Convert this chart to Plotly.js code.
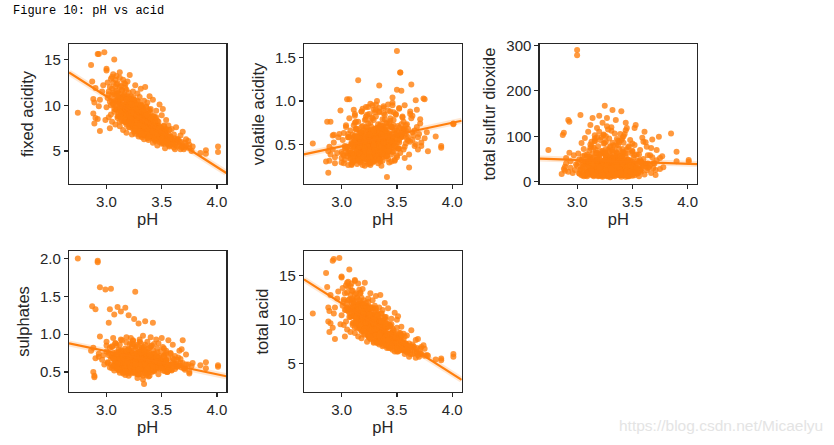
<!DOCTYPE html>
<html>
<head>
<meta charset="utf-8">
<script src="https://cdn.plot.ly/plotly-3.0.1.min.js"></script>
<style>
  html, body { margin: 0; padding: 0; background: #fff; }
  #plot { width: 834px; height: 445px; }
</style>
</head>
<body>
<div id="plot"></div>
<script>
// wine samples; pH is the shared x for every panel
var pH = [
  2.74, 2.86, 2.87, 2.88, 2.88, 2.89, 2.89, 2.90, 2.90, 2.92, 2.92, 2.93, 2.93, 2.94, 2.94, 2.96, 2.97, 2.98, 2.99, 3.00,
  3.00, 3.00, 3.01, 3.02, 3.02, 3.03, 3.03, 3.04, 3.04, 3.05, 3.05, 3.06, 3.06, 3.07, 3.07, 3.08, 3.08, 3.09, 3.09, 3.10,
  3.10, 3.10, 3.11, 3.11, 3.12, 3.12, 3.12, 3.13, 3.13, 3.14, 3.14, 3.14, 3.15, 3.15, 3.15, 3.16, 3.16, 3.16, 3.17, 3.17,
  3.17, 3.18, 3.18, 3.18, 3.19, 3.19, 3.19, 3.20, 3.20, 3.20, 3.20, 3.21, 3.21, 3.21, 3.22, 3.22, 3.22, 3.23, 3.23, 3.23,
  3.24, 3.24, 3.24, 3.25, 3.25, 3.25, 3.26, 3.26, 3.26, 3.26, 3.27, 3.27, 3.27, 3.28, 3.28, 3.28, 3.29, 3.29, 3.29, 3.30,
  3.30, 3.30, 3.30, 3.31, 3.31, 3.31, 3.32, 3.32, 3.32, 3.32, 3.33, 3.33, 3.33, 3.34, 3.34, 3.34, 3.35, 3.35, 3.35, 3.36,
  3.36, 3.36, 3.37, 3.37, 3.37, 3.38, 3.38, 3.38, 3.39, 3.39, 3.39, 3.40, 3.40, 3.40, 3.41, 3.41, 3.42, 3.42, 3.42, 3.43,
  3.43, 3.44, 3.44, 3.45, 3.45, 3.46, 3.46, 3.47, 3.47, 3.48, 3.48, 3.49, 3.50, 3.50, 3.50, 3.51, 3.51, 3.52, 3.52, 3.53,
  3.53, 3.54, 3.54, 3.55, 3.56, 3.56, 3.57, 3.58, 3.59, 3.60, 3.61, 3.62, 3.63, 3.64, 3.66, 3.67, 3.68, 3.69, 3.71, 3.72,
  3.74, 3.75, 3.77, 3.78, 3.85, 3.90, 3.90, 4.01, 4.01, 3.05, 3.08, 3.11, 3.14, 3.17, 3.19, 3.21, 3.23, 3.25, 3.27, 3.28,
  3.29, 3.30, 3.31, 3.32, 3.33, 3.34, 3.35, 3.36, 3.37, 3.38, 3.39, 3.40, 3.41, 3.42, 3.44, 3.46, 3.48, 3.51, 3.54, 3.58,
  3.06, 3.12, 3.16, 3.20, 3.22, 3.24, 3.26, 3.28, 3.30, 3.31, 3.33, 3.35, 3.36, 3.38, 3.40, 3.43, 3.45, 3.47, 3.50, 3.55,
  3.10, 3.13, 3.16, 3.18, 3.20, 3.22, 3.24, 3.26, 3.27, 3.29, 3.30, 3.32, 3.33, 3.35, 3.37, 3.39, 3.41, 3.44, 3.47, 3.52,
  3.11, 3.14, 3.17, 3.19, 3.21, 3.23, 3.25, 3.26, 3.28, 3.29, 3.31, 3.32, 3.34, 3.36, 3.38, 3.40, 3.42, 3.45, 3.49, 3.54,
  3.08, 3.12, 3.15, 3.18, 3.20, 3.22, 3.24, 3.25, 3.27, 3.28, 3.30, 3.31, 3.33, 3.35, 3.37, 3.39, 3.42, 3.46, 3.50, 3.57,
  3.09, 3.13, 3.16, 3.19, 3.21, 3.23, 3.24, 3.26, 3.27, 3.29, 3.30, 3.32, 3.34, 3.36, 3.38, 3.41, 3.43, 3.46, 3.51, 3.56,
  3.12, 3.15, 3.17, 3.20, 3.22, 3.23, 3.25, 3.27, 3.28, 3.30, 3.31, 3.33, 3.35, 3.37, 3.39, 3.40, 3.43, 3.48, 3.52, 3.60,
  3.10, 3.14, 3.18, 3.21, 3.24, 3.26, 3.28, 3.29, 3.31, 3.32, 3.34, 3.35, 3.36, 3.38, 3.40, 3.42, 3.44, 3.47, 3.53, 3.62,
  3.07, 3.11, 3.15, 3.19, 3.22, 3.25, 3.27, 3.29, 3.30, 3.32, 3.33, 3.34, 3.36, 3.37, 3.39, 3.41, 3.45, 3.49, 3.55, 3.65,
  3.14, 3.17, 3.20, 3.23, 3.25, 3.26, 3.28, 3.30, 3.31, 3.33, 3.34, 3.36, 3.38, 3.39, 3.41, 3.44, 3.46, 3.50, 3.54, 3.58,
  3.02, 3.06, 3.09, 3.12, 3.15, 3.18, 3.21, 3.24, 3.26, 3.29, 3.31, 3.34, 3.37, 3.40, 3.43, 3.46, 3.50, 3.55, 3.60, 3.68,
  3.04, 3.08, 3.11, 3.14, 3.17, 3.20, 3.22, 3.25, 3.28, 3.30, 3.33, 3.36, 3.38, 3.41, 3.44, 3.48, 3.52, 3.57, 3.63, 3.70,
  3.03, 3.07, 3.10, 3.13, 3.16, 3.19, 3.23, 3.26, 3.28, 3.31, 3.33, 3.35, 3.38, 3.42, 3.45, 3.49, 3.53, 3.58, 3.64, 3.72,
  3.05, 3.09, 3.12, 3.15, 3.18, 3.21, 3.24, 3.27, 3.29, 3.32, 3.34, 3.37, 3.40, 3.43, 3.47, 3.51, 3.56, 3.61, 3.66, 3.75,
  3.06, 3.10, 3.13, 3.16, 3.19, 3.22, 3.25, 3.27, 3.30, 3.32, 3.35, 3.38, 3.41, 3.44, 3.48, 3.52, 3.57, 3.62, 3.67, 3.71,
  3.01, 3.05, 3.09, 3.13, 3.17, 3.20, 3.23, 3.26, 3.29, 3.31, 3.34, 3.36, 3.39, 3.42, 3.46, 3.50, 3.54, 3.59, 3.64, 3.69
];
var fixedAcidity = [
  9.2, 14.4, 12.6, 10.7, 9.1, 10.3, 8.0, 8.6, 11.9, 15.6, 8.5, 15.6, 9.9, 7.2, 10.6, 11.5, 12.2, 15.8, 8.4, 14.0,
  13.8, 9.8, 12.5, 8.7, 11.2, 7.5, 10.4, 12.9, 9.0, 11.8, 8.2, 13.4, 10.1, 15.0, 9.3, 12.0, 7.9, 11.0, 13.2, 10.6,
  12.4, 8.8, 11.3, 9.6, 13.6, 10.2, 7.7, 12.1, 9.4, 11.6, 8.3, 10.8, 12.8, 9.1, 7.3, 11.1, 10.0, 8.6, 12.3, 9.7,
  10.9, 8.1, 11.7, 7.0, 9.9, 12.6, 8.9, 10.3, 7.6, 11.4, 9.2, 8.4, 10.7, 13.3, 9.0, 7.8, 11.0, 8.5, 10.2, 6.8,
  9.6, 11.5, 7.4, 8.8, 10.6, 7.1, 9.3, 12.2, 8.0, 6.9, 10.1, 8.7, 7.5, 9.8, 11.3, 7.9, 8.2, 10.4, 6.6, 9.0,
  7.7, 10.9, 8.4, 9.5, 6.8, 11.8, 7.3, 8.9, 10.0, 6.5, 8.1, 9.7, 7.0, 8.6, 10.5, 6.3, 7.8, 9.2, 12.0, 7.2,
  8.3, 9.9, 6.7, 7.5, 10.3, 8.0, 6.2, 9.1, 7.4, 11.0, 6.9, 8.5, 7.1, 9.6, 6.4, 8.2, 7.6, 10.6, 5.9, 8.8,
  7.0, 6.1, 8.6, 7.3, 9.4, 5.6, 7.9, 6.6, 8.2, 7.1, 10.1, 6.2, 7.5, 5.8, 8.9, 6.8, 9.6, 6.0, 7.7, 5.3,
  7.2, 6.4, 8.4, 5.9, 6.9, 7.8, 5.5, 6.6, 7.4, 5.8, 6.8, 5.2, 7.6, 6.2, 5.6, 6.7, 6.0, 7.1, 5.4, 6.3,
  6.1, 5.7, 5.0, 5.5, 4.8, 5.1, 4.7, 5.5, 4.9, 10.5, 9.6, 10.9, 9.8, 10.4, 9.4, 8.9, 9.7, 8.5, 9.2, 8.0,
  8.7, 7.9, 8.3, 7.6, 8.0, 7.4, 7.8, 7.2, 8.1, 7.0, 7.6, 7.3, 6.9, 7.5, 7.1, 6.7, 6.9, 6.4, 6.8, 6.5,
  11.4, 10.6, 9.5, 10.0, 9.0, 8.7, 9.9, 8.4, 9.1, 8.2, 8.8, 7.9, 8.6, 7.7, 8.0, 7.3, 7.8, 7.0, 7.2, 6.6,
  11.4, 8.9, 9.8, 7.9, 10.1, 8.8, 10.9, 7.7, 9.2, 8.0, 9.6, 6.7, 8.3, 8.8, 7.0, 9.5, 7.3, 6.2, 7.7, 6.4,
  8.8, 10.9, 9.0, 10.1, 7.6, 10.6, 8.2, 8.9, 9.7, 7.2, 8.3, 9.8, 7.4, 8.4, 8.8, 6.6, 8.4, 6.8, 6.8, 7.4,
  10.5, 8.2, 10.8, 9.4, 8.5, 10.4, 7.7, 9.4, 8.4, 10.5, 7.4, 8.7, 9.3, 6.7, 8.4, 7.1, 8.8, 7.4, 6.1, 7.3,
  9.5, 10.6, 8.2, 11.0, 9.4, 8.1, 9.9, 7.2, 9.5, 8.6, 7.8, 9.7, 8.5, 6.8, 9.4, 7.4, 6.5, 8.3, 7.1, 5.8,
  12.0, 9.3, 10.1, 8.2, 9.2, 10.2, 7.4, 9.1, 7.8, 9.7, 7.9, 7.1, 9.0, 8.1, 7.3, 9.2, 6.4, 7.7, 7.8, 5.9,
  8.6, 10.1, 10.6, 8.5, 7.8, 9.6, 8.7, 6.8, 9.0, 9.4, 7.7, 7.1, 9.8, 7.6, 8.5, 6.8, 7.7, 6.2, 7.2, 6.4,
  11.2, 10.1, 8.7, 9.0, 10.7, 8.2, 9.0, 9.4, 7.1, 7.9, 8.8, 9.3, 7.2, 6.4, 7.9, 8.4, 8.7, 6.6, 6.6, 6.3,
  9.4, 8.2, 9.8, 9.3, 10.3, 7.8, 8.2, 9.1, 10.0, 7.5, 6.8, 8.5, 7.5, 8.7, 7.0, 8.3, 6.8, 7.2, 6.1, 6.1,
  11.5, 10.2, 12.3, 9.4, 11.0, 8.9, 10.4, 8.1, 9.6, 7.6, 9.0, 7.2, 8.4, 6.9, 7.8, 6.3, 6.9, 5.8, 6.2, 5.4,
  10.0, 12.8, 9.2, 11.7, 8.6, 10.8, 8.0, 9.9, 7.4, 8.8, 9.5, 7.0, 8.0, 6.6, 7.4, 6.0, 6.6, 5.6, 5.9, 5.2,
  12.0, 9.6, 11.3, 10.0, 12.4, 9.0, 8.4, 10.2, 8.2, 7.1, 8.6, 6.8, 7.3, 8.1, 6.5, 7.0, 6.1, 6.4, 5.5, 5.6,
  11.1, 9.9, 13.0, 8.9, 10.6, 8.3, 9.5, 7.8, 9.2, 6.9, 8.1, 7.5, 8.6, 6.4, 7.2, 5.9, 6.5, 5.4, 6.0, 5.3,
  12.5, 10.7, 8.7, 11.2, 9.7, 8.6, 10.6, 8.9, 7.8, 8.4, 7.6, 6.5, 7.7, 6.8, 7.5, 5.8, 6.2, 5.7, 5.2, 5.9,
  10.8, 13.1, 11.6, 9.1, 11.9, 8.1, 10.1, 7.5, 8.7, 10.0, 7.7, 8.9, 6.7, 7.1, 6.9, 6.2, 7.3, 5.7, 6.3, 5.5
];
var volatileAcidity = [
  0.51, 0.30, 0.76, 0.17, 0.42, 0.31, 0.47, 0.76, 0.38, 0.60, 0.44, 0.61, 0.52, 0.35, 0.28, 0.40, 0.58, 0.62, 0.89, 0.34,
  0.41, 0.29, 0.55, 0.63, 0.37, 0.48, 0.32, 0.45, 0.70, 1.02, 0.39, 0.26, 0.58, 0.40, 1.02, 0.33, 0.66, 0.50, 0.27, 0.43,
  0.35, 0.61, 0.47, 0.72, 0.31, 0.54, 0.83, 0.40, 0.59, 0.46, 0.68, 0.38, 1.24, 0.52, 0.76, 0.43, 0.36, 0.63, 0.29, 0.57,
  0.49, 0.64, 0.34, 0.88, 0.53, 0.39, 0.71, 0.45, 0.60, 0.32, 0.56, 0.78, 0.42, 0.25, 0.66, 0.93, 0.48, 0.58, 0.37, 0.69,
  0.51, 0.40, 0.74, 0.62, 0.33, 0.85, 0.55, 0.28, 0.66, 0.97, 0.46, 0.59, 0.70, 0.41, 0.35, 0.80, 0.63, 0.50, 0.90, 0.44,
  0.57, 0.31, 0.68, 0.47, 0.82, 0.38, 0.61, 0.54, 0.43, 1.00, 0.65, 0.36, 0.73, 1.18, 0.49, 0.87, 0.58, 0.40, 0.30, 0.64,
  0.52, 0.45, 0.79, 0.60, 0.35, 0.69, 0.92, 0.48, 0.63, 0.39, 0.84, 0.56, 0.67, 0.44, 0.12, 0.75, 0.59, 0.33, 0.96, 0.50,
  0.62, 0.88, 0.47, 0.70, 0.38, 1.04, 0.55, 0.78, 0.42, 0.66, 0.31, 0.85, 1.58, 0.60, 1.13, 0.71, 0.45, 0.92, 0.52, 1.33,
  1.33, 1.12, 0.58, 0.81, 0.67, 0.44, 0.95, 0.62, 0.73, 0.54, 0.23, 0.85, 1.19, 0.64, 0.48, 1.01, 0.70, 0.58, 0.79, 0.52,
  1.03, 1.02, 0.64, 0.42, 0.59, 0.48, 0.46, 0.74, 0.73, 0.46, 0.38, 0.58, 0.49, 0.41, 0.62, 0.53, 0.45, 0.60, 0.52, 0.39,
  0.57, 0.48, 0.63, 0.51, 0.44, 0.60, 0.55, 0.68, 0.47, 0.58, 0.53, 0.65, 0.49, 0.61, 0.56, 0.70, 0.52, 0.64, 0.59, 0.66,
  0.40, 0.47, 0.55, 0.43, 0.50, 0.58, 0.46, 0.53, 0.61, 0.49, 0.56, 0.42, 0.60, 0.54, 0.48, 0.63, 0.57, 0.51, 0.66, 0.59,
  0.38, 0.52, 0.44, 0.60, 0.35, 0.49, 0.66, 0.42, 0.56, 0.31, 0.47, 0.62, 0.40, 0.53, 0.71, 0.45, 0.58, 0.50, 0.64, 0.55,
  0.55, 0.33, 0.48, 0.41, 0.63, 0.37, 0.50, 0.58, 0.29, 0.45, 0.68, 0.39, 0.54, 0.46, 0.60, 0.36, 0.49, 0.70, 0.57, 0.61,
  0.43, 0.60, 0.36, 0.51, 0.46, 0.70, 0.32, 0.55, 0.48, 0.40, 0.62, 0.52, 0.34, 0.59, 0.45, 0.66, 0.41, 0.57, 0.52, 0.63,
  0.50, 0.40, 0.57, 0.34, 0.52, 0.45, 0.61, 0.38, 0.67, 0.49, 0.35, 0.56, 0.63, 0.42, 0.50, 0.58, 0.74, 0.46, 0.60, 0.68,
  0.36, 0.47, 0.63, 0.42, 0.56, 0.30, 0.48, 0.65, 0.39, 0.54, 0.44, 0.60, 0.51, 0.37, 0.66, 0.49, 0.55, 0.62, 0.45, 0.58,
  0.47, 0.58, 0.31, 0.53, 0.43, 0.62, 0.37, 0.50, 0.46, 0.69, 0.33, 0.52, 0.57, 0.64, 0.41, 0.55, 0.48, 0.72, 0.59, 0.53,
  0.58, 0.38, 0.49, 0.66, 0.40, 0.54, 0.45, 0.31, 0.60, 0.47, 0.55, 0.36, 0.68, 0.50, 0.43, 0.62, 0.53, 0.47, 0.67, 0.60,
  0.42, 0.55, 0.39, 0.48, 0.61, 0.35, 0.53, 0.44, 0.57, 0.39, 0.64, 0.47, 0.52, 0.59, 0.46, 0.70, 0.41, 0.56, 0.63, 0.51,
  0.28, 0.62, 0.40, 0.85, 0.33, 0.70, 0.45, 0.93, 0.26, 0.78, 0.36, 0.88, 0.31, 0.74, 0.42, 0.98, 0.35, 0.82, 0.68, 0.90,
  0.72, 0.34, 0.90, 0.27, 0.64, 0.38, 0.82, 0.30, 0.95, 0.43, 0.69, 0.25, 0.86, 0.37, 0.77, 0.32, 0.91, 0.47, 0.80, 0.62,
  0.45, 0.80, 0.29, 0.67, 0.39, 0.91, 0.33, 0.75, 0.41, 0.96, 0.28, 0.73, 0.44, 0.89, 0.30, 0.84, 0.40, 0.72, 0.55, 0.48,
  0.36, 0.52, 0.75, 0.31, 0.88, 0.44, 0.27, 0.81, 0.49, 0.34, 0.92, 0.39, 0.70, 0.29, 0.87, 0.45, 0.76, 0.38, 0.66, 0.57,
  0.58, 0.30, 0.68, 0.47, 0.26, 0.79, 0.41, 0.63, 0.87, 0.33, 0.71, 0.94, 0.36, 0.80, 0.48, 0.69, 0.34, 0.88, 0.50, 0.74,
  0.39, 0.47, 0.26, 0.76, 0.52, 0.35, 0.84, 0.29, 0.66, 0.90, 0.32, 0.61, 0.79, 0.42, 0.95, 0.37, 0.73, 0.56, 0.83, 0.44
];
var totalSulfurDioxide = [
  70, 17, 103, 108, 28, 33, 24, 52, 40, 136, 22, 132, 64, 31, 45, 19, 58, 26, 38, 290,
  278, 35, 62, 18, 49, 147, 27, 85, 14, 56, 30, 72, 21, 44, 96, 16, 38, 60, 25, 110,
  42, 19, 68, 33, 125, 24, 50, 15, 88, 37, 140, 28, 54, 12, 75, 36, 22, 102, 46, 17,
  31, 64, 20, 118, 40, 26, 78, 13, 55, 34, 145, 23, 48, 92, 18, 38, 67, 11, 29, 130,
  44, 21, 84, 167, 35, 60, 16, 100, 27, 52, 14, 39, 122, 24, 70, 18, 47, 32, 95, 10,
  58, 26, 37, 112, 19, 45, 158, 30, 66, 15, 23, 80, 41, 12, 54, 28, 136, 20, 36, 62,
  17, 48, 90, 25, 33, 14, 72, 40, 21, 105, 29, 155, 52, 11, 38, 64, 19, 86, 27, 43,
  15, 57, 24, 118, 35, 20, 76, 31, 12, 46, 92, 22, 39, 68, 16, 28, 53, 14, 81, 25,
  36, 18, 60, 27, 44, 12, 70, 22, 33, 50, 16, 87, 25, 40, 58, 19, 93, 30, 15, 47,
  99, 28, 56, 32, 106, 66, 45, 48, 44, 38, 22, 55, 30, 18, 42, 26, 64, 34, 20, 48,
  24, 36, 16, 52, 29, 40, 21, 33, 58, 18, 45, 26, 37, 14, 31, 49, 23, 35, 19, 28,
  33, 46, 25, 60, 38, 20, 50, 30, 43, 17, 27, 55, 22, 41, 32, 15, 36, 24, 44, 29,
  22, 78, 15, 54, 28, 98, 44, 31, 12, 66, 25, 86, 19, 48, 27, 14, 58, 113, 21, 40,
  30, 16, 47, 24, 38, 13, 62, 20, 35, 28, 17, 52, 26, 41, 15, 34, 23, 70, 29, 19,
  45, 26, 18, 35, 60, 21, 29, 14, 42, 24, 78, 31, 16, 37, 22, 50, 27, 12, 39, 25,
  18, 52, 89, 14, 40, 23, 104, 57, 19, 30, 76, 13, 26, 64, 21, 96, 17, 44, 28, 33,
  27, 20, 63, 32, 16, 45, 24, 38, 12, 55, 29, 21, 41, 18, 34, 25, 48, 15, 31, 37,
  35, 23, 41, 17, 29, 72, 20, 33, 46, 14, 38, 26, 18, 53, 24, 30, 11, 42, 22, 39,
  14, 43, 27, 36, 21, 31, 56, 16, 28, 40, 19, 34, 47, 23, 15, 61, 26, 37, 18, 32,
  39, 25, 33, 19, 48, 28, 15, 43, 22, 35, 68, 17, 30, 24, 52, 20, 36, 13, 27, 44,
  18, 40, 12, 75, 25, 98, 33, 15, 60, 44, 120, 22, 81, 38, 105, 28, 66, 46, 88, 54,
  48, 14, 30, 62, 20, 110, 36, 85, 17, 52, 26, 94, 40, 72, 130, 35, 58, 24, 77, 40,
  25, 58, 16, 41, 90, 12, 68, 28, 115, 19, 46, 80, 32, 100, 24, 63, 125, 42, 30, 70,
  33, 20, 82, 15, 47, 27, 102, 38, 13, 70, 56, 18, 92, 44, 78, 21, 60, 110, 36, 52,
  12, 45, 26, 95, 34, 18, 64, 140, 29, 50, 15, 87, 40, 62, 22, 118, 48, 34, 74, 26,
  42, 16, 55, 23, 70, 31, 14, 88, 45, 26, 106, 37, 20, 66, 48, 84, 30, 97, 58, 41
];
var sulphates = [
  2.00, 0.78, 1.37, 0.82, 0.50, 0.45, 0.43, 1.33, 0.68, 1.97, 1.95, 0.74, 0.70, 1.62, 0.97, 0.66, 0.72, 0.60, 1.59, 0.85,
  0.90, 0.77, 0.62, 1.15, 0.75, 0.56, 1.33, 1.60, 0.68, 0.83, 0.70, 0.58, 0.95, 0.72, 1.26, 0.64, 0.88, 0.55, 0.62, 0.70,
  1.36, 0.61, 0.79, 0.68, 0.53, 0.86, 0.66, 1.30, 0.73, 0.59, 0.92, 0.78, 0.64, 0.77, 0.48, 0.63, 0.69, 0.57, 0.81, 1.35,
  0.62, 0.74, 0.52, 0.96, 0.67, 0.72, 0.58, 0.80, 0.45, 0.71, 1.25, 0.63, 0.87, 0.54, 0.76, 0.65, 0.60, 0.69, 0.50, 0.83,
  0.65, 0.91, 0.56, 0.73, 1.20, 0.61, 1.56, 0.48, 0.79, 0.68, 0.60, 0.57, 0.84, 0.66, 0.42, 0.75, 1.14, 0.59, 0.70, 0.93,
  0.54, 0.77, 0.63, 0.88, 0.47, 0.68, 0.60, 0.71, 0.82, 0.52, 0.98, 0.64, 0.40, 0.34, 0.74, 0.58, 0.86, 1.17, 0.67, 0.55,
  0.72, 0.61, 0.90, 0.49, 0.80, 0.65, 0.72, 0.56, 0.75, 0.62, 0.45, 0.84, 0.68, 0.96, 0.53, 0.70, 1.15, 0.58, 0.79, 0.63,
  0.51, 0.74, 0.66, 0.93, 0.57, 0.81, 0.62, 0.47, 0.88, 0.69, 0.54, 0.77, 0.60, 0.95, 0.65, 0.52, 0.83, 0.58, 0.71, 0.63,
  0.56, 0.78, 0.64, 0.50, 0.92, 0.68, 0.59, 0.75, 0.53, 0.86, 0.61, 0.71, 0.57, 0.66, 0.78, 0.62, 0.80, 0.92, 0.55, 0.73,
  0.60, 0.48, 0.58, 0.62, 0.59, 0.63, 0.55, 0.59, 0.57, 0.70, 0.62, 0.76, 0.58, 0.66, 0.72, 0.60, 0.68, 0.64, 0.74, 0.61,
  0.67, 0.59, 0.73, 0.63, 0.69, 0.56, 0.65, 0.71, 0.60, 0.66, 0.62, 0.70, 0.58, 0.64, 0.68, 0.57, 0.63, 0.60, 0.66, 0.59,
  0.75, 0.64, 0.70, 0.61, 0.78, 0.66, 0.63, 0.72, 0.59, 0.68, 0.65, 0.74, 0.62, 0.57, 0.69, 0.60, 0.67, 0.64, 0.58, 0.61,
  0.58, 0.66, 0.52, 0.71, 0.61, 0.48, 0.75, 0.63, 0.55, 0.68, 0.59, 0.80, 0.53, 0.64, 0.57, 0.70, 0.50, 0.62, 0.67, 0.56,
  0.64, 0.55, 0.72, 0.49, 0.60, 0.68, 0.57, 0.83, 0.62, 0.53, 0.66, 0.58, 0.74, 0.51, 0.63, 0.59, 0.69, 0.54, 0.61, 0.65,
  0.70, 0.59, 0.62, 0.56, 0.78, 0.53, 0.65, 0.60, 0.72, 0.47, 0.58, 0.67, 0.61, 0.55, 0.76, 0.63, 0.52, 0.69, 0.57, 0.60,
  0.55, 0.73, 0.60, 0.66, 0.51, 0.62, 0.87, 0.57, 0.64, 0.59, 0.70, 0.54, 0.63, 0.68, 0.56, 0.61, 0.74, 0.58, 0.65, 0.52,
  0.62, 0.68, 0.54, 0.61, 0.66, 0.58, 0.72, 0.50, 0.64, 0.57, 0.79, 0.60, 0.55, 0.67, 0.62, 0.53, 0.59, 0.71, 0.56, 0.63,
  0.57, 0.63, 0.69, 0.53, 0.60, 0.65, 0.59, 0.76, 0.55, 0.62, 0.58, 0.70, 0.64, 0.49, 0.61, 0.67, 0.56, 0.60, 0.73, 0.54,
  0.66, 0.52, 0.60, 0.74, 0.57, 0.63, 0.55, 0.68, 0.61, 0.71, 0.54, 0.59, 0.65, 0.62, 0.82, 0.56, 0.60, 0.64, 0.58, 0.69,
  0.60, 0.71, 0.58, 0.63, 0.55, 0.67, 0.62, 0.57, 0.73, 0.60, 0.64, 0.52, 0.68, 0.61, 0.58, 0.66, 0.70, 0.56, 0.62, 0.59,
  0.72, 0.58, 0.85, 0.49, 0.66, 0.78, 0.55, 0.92, 0.61, 0.47, 0.70, 0.83, 0.57, 0.64, 0.52, 0.76, 0.60, 0.50, 0.68, 0.56,
  0.60, 0.88, 0.53, 0.71, 0.46, 0.80, 0.63, 0.57, 0.75, 0.90, 0.54, 0.67, 0.44, 0.73, 0.62, 0.58, 0.81, 0.53, 0.61, 0.55,
  0.82, 0.52, 0.67, 0.93, 0.58, 0.49, 0.71, 0.64, 0.86, 0.56, 0.45, 0.77, 0.62, 0.53, 0.70, 0.65, 0.51, 0.74, 0.57, 0.60,
  0.55, 0.76, 0.62, 0.50, 0.89, 0.66, 0.58, 0.73, 0.47, 0.81, 0.60, 0.54, 0.69, 0.87, 0.56, 0.63, 0.52, 0.66, 0.59, 0.50,
  0.68, 0.61, 0.79, 0.55, 0.64, 0.95, 0.50, 0.70, 0.59, 0.76, 0.48, 0.65, 0.85, 0.57, 0.62, 0.71, 0.54, 0.60, 0.67, 0.53,
  0.63, 0.84, 0.56, 0.74, 0.51, 0.69, 0.87, 0.60, 0.53, 0.66, 0.79, 0.46, 0.72, 0.58, 0.64, 0.55, 0.75, 0.52, 0.58, 0.62
];
var totalAcid = [
  10.7, 15.3, 13.7, 11.4, 9.8, 11.0, 8.6, 9.6, 12.8, 16.7, 9.1, 16.9, 10.7, 7.8, 11.4, 12.4, 13.2, 17.0, 9.5, 14.9,
  14.8, 10.5, 13.6, 9.4, 12.1, 8.1, 11.1, 13.9, 9.8, 13.1, 8.9, 14.3, 11.0, 15.7, 10.3, 12.8, 8.6, 11.9, 14.1, 11.4,
  13.3, 9.6, 12.2, 10.4, 14.5, 11.0, 8.5, 13.0, 10.2, 12.5, 9.1, 11.6, 14.1, 9.9, 8.1, 11.9, 10.7, 9.3, 13.1, 10.5,
  11.8, 8.8, 12.5, 7.9, 10.7, 13.5, 9.7, 11.2, 8.3, 12.2, 10.0, 9.3, 11.5, 14.2, 9.9, 8.7, 11.9, 9.2, 10.9, 7.5,
  10.4, 12.4, 8.1, 9.6, 11.3, 8.0, 10.2, 13.0, 8.8, 7.9, 10.9, 9.5, 8.3, 10.5, 12.2, 8.7, 8.9, 11.3, 7.5, 9.7,
  8.4, 11.6, 9.2, 10.3, 7.6, 12.7, 8.0, 9.6, 10.8, 7.5, 8.9, 10.4, 7.7, 9.8, 11.4, 7.2, 8.5, 9.9, 12.8, 7.9,
  9.0, 10.7, 7.5, 8.2, 11.1, 8.8, 7.1, 9.9, 8.1, 11.9, 7.7, 9.3, 7.9, 10.3, 6.8, 9.1, 8.3, 11.3, 6.9, 9.5,
  7.7, 7.0, 9.3, 8.1, 10.1, 6.6, 8.6, 7.4, 8.8, 7.9, 10.8, 7.1, 9.1, 6.4, 10.0, 7.5, 10.4, 6.9, 8.3, 6.6,
  8.5, 7.5, 9.2, 6.7, 7.7, 8.4, 6.5, 7.3, 8.2, 6.4, 7.3, 6.1, 8.8, 6.9, 6.2, 7.7, 6.8, 7.8, 6.2, 6.9,
  7.1, 6.7, 6.0, 5.9, 5.5, 5.6, 5.4, 6.1, 5.8, 11.4, 10.3, 11.9, 10.6, 11.2, 10.2, 9.6, 10.5, 9.2, 10.0, 8.5,
  9.5, 8.5, 9.1, 8.2, 8.6, 8.1, 8.5, 7.9, 8.8, 7.6, 8.2, 8.0, 7.5, 8.2, 7.7, 7.4, 7.5, 7.0, 7.5, 7.2,
  12.2, 11.5, 10.4, 10.7, 9.7, 9.5, 10.7, 9.0, 9.9, 8.8, 9.6, 8.4, 9.4, 8.3, 8.6, 7.9, 8.5, 7.5, 8.0, 7.2,
  12.3, 9.7, 10.6, 8.7, 10.9, 9.6, 12.0, 8.3, 10.1, 8.5, 10.4, 7.4, 9.0, 9.6, 7.9, 10.3, 8.1, 6.8, 8.5, 7.1,
  9.7, 11.7, 9.8, 10.9, 8.4, 11.4, 9.0, 9.8, 10.4, 7.8, 9.2, 10.6, 8.1, 9.1, 9.7, 7.1, 9.2, 7.6, 7.5, 8.2,
  11.4, 9.1, 11.6, 10.3, 9.2, 11.5, 8.2, 10.3, 9.1, 11.3, 8.2, 9.5, 10.0, 7.4, 9.1, 7.9, 9.5, 8.2, 6.7, 8.1,
  10.4, 11.4, 9.0, 11.8, 10.3, 8.8, 10.9, 7.8, 10.5, 9.4, 8.4, 10.6, 9.4, 7.4, 10.2, 8.2, 7.3, 9.0, 7.9, 6.5,
  12.9, 10.1, 11.1, 8.9, 10.1, 10.9, 8.1, 10.1, 8.4, 10.6, 8.6, 7.9, 9.8, 8.7, 8.1, 10.0, 7.1, 8.5, 8.5, 6.5,
  9.4, 11.1, 11.4, 9.3, 8.4, 10.6, 9.4, 7.4, 9.8, 10.4, 8.2, 7.8, 10.7, 8.4, 9.2, 7.5, 8.4, 7.0, 8.0, 7.0,
  12.3, 10.9, 9.5, 10.0, 11.6, 9.0, 9.8, 10.1, 7.9, 8.6, 9.6, 10.0, 8.1, 7.0, 8.6, 9.3, 9.5, 7.2, 7.4, 7.0,
  10.2, 9.0, 10.6, 10.1, 11.3, 8.4, 9.0, 9.9, 11.0, 8.1, 7.6, 9.2, 8.2, 9.6, 7.6, 9.3, 7.3, 7.9, 6.8, 6.7,
  12.3, 11.2, 13.3, 10.6, 11.8, 9.9, 11.3, 9.3, 10.2, 8.6, 9.7, 8.3, 9.0, 7.8, 8.4, 7.4, 7.4, 6.7, 7.0, 6.3,
  11.1, 13.8, 10.4, 12.5, 9.5, 11.6, 9.1, 10.6, 8.5, 9.5, 10.5, 7.4, 9.1, 7.1, 8.4, 6.4, 7.6, 6.1, 6.8, 5.8,
  13.0, 10.8, 12.1, 11.1, 13.4, 10.2, 9.0, 11.4, 8.9, 8.2, 9.2, 7.7, 7.9, 9.2, 6.9, 8.0, 6.6, 7.2, 6.1, 6.1,
  11.9, 10.8, 14.4, 9.5, 11.9, 9.0, 10.1, 8.8, 10.0, 7.4, 9.3, 8.1, 9.6, 6.8, 8.2, 6.4, 7.4, 5.8, 6.7, 5.9,
  13.7, 11.5, 9.7, 12.2, 10.3, 9.7, 11.5, 9.8, 8.9, 9.0, 8.5, 7.6, 8.3, 7.7, 8.2, 6.5, 6.6, 6.6, 5.7, 6.7,
  11.6, 14.2, 12.4, 10.2, 13.0, 8.7, 11.3, 8.0, 9.7, 11.3, 8.2, 9.8, 7.6, 7.7, 8.0, 6.7, 8.2, 6.3, 7.2, 6.0
];
var xTicks = [3.0, 3.5, 4.0];

var orange = "#ff7f0e";
var ink = "#262626";
var font = "Liberation Sans, Arial, sans-serif";
var W = 834, H = 445;
var m = {l: 69, r: 137, t: 44, b: 53};
var xRange = [2.66, 4.085];

var panels = [
  {y: fixedAcidity, label: "fixed acidity", range: [1.4, 16.7], ticks: [5, 10, 15], col: 0, row: 0},
  {y: volatileAcidity, label: "volatile acidity", range: [0.04, 1.66], ticks: [0.5, 1.0, 1.5], col: 1, row: 0, fmt: ".1f"},
  {y: totalSulfurDioxide, label: "total sulfur dioxide", range: [-5, 303], ticks: [0, 100, 200, 300], col: 2, row: 0},
  {y: sulphates, label: "sulphates", range: [0.235, 2.1], ticks: [0.5, 1.0, 1.5, 2.0], col: 0, row: 1, fmt: ".1f"},
  {y: totalAcid, label: "total acid", range: [1.8, 17.8], ticks: [5, 10, 15], col: 1, row: 1}
];
var colDomains = [[0, 0.2505], [0.3741, 0.6253], [0.7493, 1]];
var rowDomains = [[0.5977, 1], [0, 0.4052]];

// least squares fit, like seaborn's regplot line
function linfit(x, y) {
  var n = x.length, mx = 0, my = 0, sxy = 0, sxx = 0;
  for (var i = 0; i < n; i++) { mx += x[i]; my += y[i]; }
  mx /= n; my /= n;
  for (var i = 0; i < n; i++) {
    sxy += (x[i] - mx) * (y[i] - my);
    sxx += (x[i] - mx) * (x[i] - mx);
  }
  var b = sxy / sxx;
  return function (v) { return my + b * (v - mx); };
}

var traces = [];
var layout = {
  width: W, height: H,
  margin: m,
  paper_bgcolor: "#fff",
  plot_bgcolor: "#fff",
  showlegend: false,
  font: {family: font, color: ink},
  annotations: []
};

panels.forEach(function (p, i) {
  var k = i + 1;
  var xa = "x" + (k > 1 ? k : ""), ya = "y" + (k > 1 ? k : "");
  var f = linfit(pH, p.y);
  traces.push({
    x: pH, y: p.y, xaxis: xa, yaxis: ya,
    type: "scatter", mode: "markers",
    marker: {color: orange, size: 6, opacity: 0.8, line: {width: 0}},
    hoverinfo: "skip"
  });
  // faint band behind the fit line
  traces.push({
    x: xRange, y: xRange.map(f), xaxis: xa, yaxis: ya,
    type: "scatter", mode: "lines",
    line: {color: "rgba(255,127,14,0.18)", width: 6}
  });
  traces.push({
    x: xRange, y: xRange.map(f), xaxis: xa, yaxis: ya,
    type: "scatter", mode: "lines",
    line: {color: orange, width: 2.2}
  });

  var axCommon = {
    showline: true, mirror: true, linecolor: ink, linewidth: 1.2,
    ticks: "outside", ticklen: 4, tickwidth: 1.2, tickcolor: ink,
    showgrid: false, zeroline: false,
    tickfont: {family: font, size: 15, color: ink}
  };
  layout["xaxis" + (k > 1 ? k : "")] = Object.assign({}, axCommon, {
    domain: colDomains[p.col], anchor: ya, range: xRange,
    tickvals: xTicks, tickformat: ".1f",
    title: {text: "pH", font: {family: font, size: 16.5, color: ink}, standoff: 4}
  });
  layout["yaxis" + (k > 1 ? k : "")] = Object.assign({}, axCommon, {
    domain: rowDomains[p.row], anchor: xa, range: p.range,
    tickvals: p.ticks, tickformat: p.fmt || "",
    title: {text: p.label, font: {family: font, size: 16.5, color: ink}, standoff: 6}
  });
});

var pw = W - m.l - m.r, ph = H - m.t - m.b;
function px(xp) { return (xp - m.l) / pw; }
function py(yp) { return (H - m.b - yp) / ph; }

layout.annotations.push({
  text: "Figure 10: pH vs acid", xref: "paper", yref: "paper",
  x: px(11), y: py(11), xanchor: "left", yanchor: "middle", showarrow: false,
  font: {family: "Liberation Mono, Courier New, monospace", size: 12, color: "#000"}
});
layout.annotations.push({
  text: "https://blog.csdn.net/Micaelyu", xref: "paper", yref: "paper",
  x: px(617), y: py(425), xanchor: "left", yanchor: "middle", showarrow: false,
  font: {family: font, size: 15.5, color: "#e4e4e4"}
});

Plotly.newPlot("plot", traces, layout, {displayModeBar: false, staticPlot: true});
</script>
</body>
</html>
